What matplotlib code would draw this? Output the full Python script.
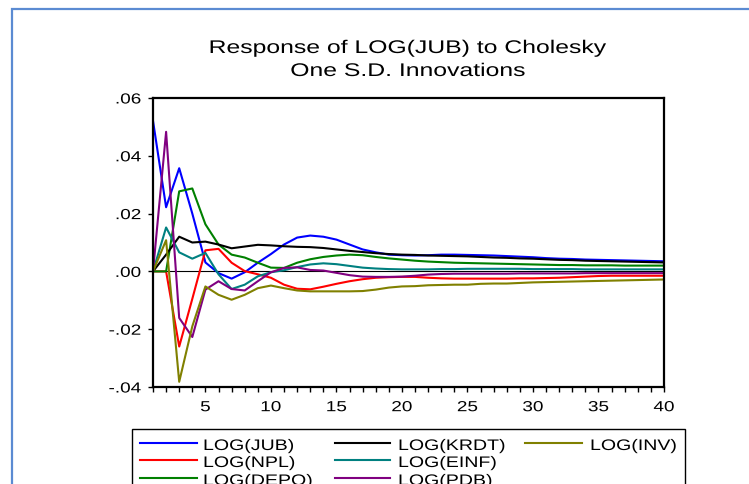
import matplotlib
matplotlib.use('Agg')
import matplotlib.pyplot as plt
from matplotlib.patches import Rectangle
from matplotlib.lines import Line2D
from matplotlib.patheffects import AbstractPathEffect
from matplotlib.transforms import Affine2D
from matplotlib.ticker import MultipleLocator

plt.rcParams['font.family'] = ['Liberation Sans', 'DejaVu Sans']

# impulse responses, periods 1..40
periods = list(range(1, 41))
jub = [0.0521, 0.0222, 0.0357, 0.0200, 0.0031, -0.0006, -0.0025, -0.0003, 0.0030, 0.0060,
       0.0093, 0.0117, 0.0124, 0.0120, 0.0110, 0.0093, 0.0076, 0.0066, 0.0058, 0.0056,
       0.0055, 0.0056, 0.0058, 0.0058, 0.0057, 0.0056, 0.0055, 0.0053, 0.0051, 0.0049,
       0.0046, 0.0044, 0.0043, 0.0041, 0.0040, 0.0039, 0.0038, 0.0037, 0.0036, 0.0035]
npl = [0.0, 0.0, -0.0260, -0.0095, 0.0073, 0.0078, 0.0030, 0.0001, -0.0010, -0.0022,
       -0.0046, -0.0060, -0.0062, -0.0053, -0.0043, -0.0034, -0.0027, -0.0022, -0.0020, -0.0019,
       -0.0019, -0.0022, -0.0024, -0.0025, -0.0025, -0.0025, -0.0025, -0.0025, -0.0024, -0.0024,
       -0.0023, -0.0022, -0.0020, -0.0018, -0.0016, -0.0015, -0.0015, -0.0015, -0.0015, -0.0015]
depo = [0.0, 0.0, 0.0277, 0.0287, 0.0163, 0.0093, 0.0058, 0.0048, 0.0030, 0.0013,
        0.0012, 0.0030, 0.0042, 0.0050, 0.0055, 0.0058, 0.0056, 0.0050, 0.0045, 0.0041,
        0.0037, 0.0034, 0.0032, 0.0030, 0.0029, 0.0028, 0.0027, 0.0026, 0.0025, 0.0024,
        0.0023, 0.0022, 0.0022, 0.0021, 0.0021, 0.0021, 0.0020, 0.0020, 0.0020, 0.0020]
krdt = [0.0, 0.0058, 0.0120, 0.0100, 0.0103, 0.0093, 0.0080, 0.0086, 0.0092, 0.0090,
        0.0087, 0.0085, 0.0084, 0.0081, 0.0076, 0.0071, 0.0067, 0.0063, 0.0060, 0.0058,
        0.0057, 0.0055, 0.0054, 0.0053, 0.0052, 0.0050, 0.0048, 0.0047, 0.0045, 0.0044,
        0.0042, 0.0040, 0.0039, 0.0037, 0.0036, 0.0035, 0.0034, 0.0033, 0.0032, 0.0031]
einf = [0.0, 0.0152, 0.0066, 0.0044, 0.0064, -0.0010, -0.0061, -0.0046, -0.0017, -0.0003,
        0.0004, 0.0015, 0.0024, 0.0028, 0.0025, 0.0019, 0.0013, 0.0010, 0.0008, 0.0007,
        0.0007, 0.0007, 0.0008, 0.0008, 0.0009, 0.0009, 0.0009, 0.0009, 0.0009, 0.0008,
        0.0008, 0.0008, 0.0008, 0.0007, 0.0007, 0.0007, 0.0007, 0.0007, 0.0007, 0.0007]
pdb = [0.0, 0.0483, -0.0161, -0.0227, -0.0063, -0.0034, -0.0061, -0.0066, -0.0034, -0.0003,
       0.0012, 0.0014, 0.0005, 0.0003, -0.0005, -0.0013, -0.0018, -0.0019, -0.0019, -0.0018,
       -0.0015, -0.0011, -0.0009, -0.0008, -0.0008, -0.0008, -0.0008, -0.0008, -0.0007, -0.0007,
       -0.0007, -0.0007, -0.0007, -0.0006, -0.0006, -0.0006, -0.0006, -0.0006, -0.0006, -0.0006]
inv = [0.0, 0.0108, -0.0382, -0.0190, -0.0052, -0.0081, -0.0098, -0.0081, -0.0058, -0.0049,
       -0.0058, -0.0066, -0.0069, -0.0069, -0.0069, -0.0069, -0.0068, -0.0063, -0.0056, -0.0052,
       -0.0051, -0.0048, -0.0047, -0.0046, -0.0046, -0.0043, -0.0042, -0.0042, -0.0040, -0.0038,
       -0.0037, -0.0036, -0.0035, -0.0034, -0.0033, -0.0032, -0.0031, -0.0030, -0.0029, -0.0028]

series_names = ['LOG(JUB)', 'LOG(NPL)', 'LOG(DEPO)', 'LOG(KRDT)', 'LOG(EINF)', 'LOG(PDB)', 'LOG(INV)']
series_data = [jub, npl, depo, krdt, einf, pdb, inv]
series_colors = ['#0000ff', '#ff0000', '#008000', '#000000', '#008080', '#800080', '#808000']

xticks = [5, 10, 15, 20, 25, 30, 35, 40]
yticks = [-0.04, -0.02, 0.0, 0.02, 0.04, 0.06]
ytick_labels = ['-.04', '-.02', '.00', '.02', '.04', '.06']
title_lines = ['Response of LOG(JUB) to Cholesky', 'One S.D. Innovations']


class Stretch(AbstractPathEffect):
    """widen text horizontally (the source image is stretched)"""
    def __init__(self, sx=1.3, anchor='center'):
        super().__init__()
        self.sx = sx
        self.anchor = anchor

    def draw_path(self, renderer, gc, tpath, affine, rgbFace=None):
        ext = tpath.get_extents()
        if self.anchor == 'center':
            x0 = (ext.x0 + ext.x1) / 2
        elif self.anchor == 'right':
            x0 = ext.x1
        else:
            x0 = 0
        st = Affine2D().translate(-x0, 0).scale(self.sx, 1).translate(x0, 0)
        renderer.draw_path(gc, tpath, st + affine, rgbFace)


W, H = 749, 485
fig = plt.figure(figsize=(W / 100, H / 100), dpi=100)

def fx(px):
    return px / W

def fy(py):
    return 1 - py / H

# outer blue frame (cut off at right/bottom)
fig.add_artist(Rectangle((fx(12), -0.5), 2.0, fy(10) + 0.5, transform=fig.transFigure,
                         fill=False, edgecolor='#5b8bd2', lw=1.6, clip_on=False))

ax = fig.add_axes([fx(153), fy(388), fx(664) - fx(153), fy(99) - fy(388)])

for name, vals, col in zip(series_names, series_data, series_colors):
    ax.plot(periods, vals, color=col, lw=1.5, label=name)
ax.axhline(0, color='black', lw=0.8, zorder=1)

ax.set_xlim(1, 40)
ax.set_ylim(-0.04, 0.06)
ax.set_xticks(xticks)
ax.set_xticklabels([str(t) for t in xticks])
ax.xaxis.set_minor_locator(MultipleLocator(1))
ax.set_yticks(yticks)
ax.set_yticklabels(ytick_labels)
ax.tick_params(axis='both', which='both', direction='out', length=3.5, width=1.0,
               labelsize=10.5, top=False, right=False)
ax.tick_params(axis='x', pad=6)
ax.tick_params(axis='y', pad=5)
for sp in ax.spines.values():
    sp.set_linewidth(1.6)

for lab in ax.get_xticklabels():
    lab.set_path_effects([Stretch(1.3, 'center')])
for lab in ax.get_yticklabels():
    lab.set_path_effects([Stretch(1.3, 'right')])

# title, two lines
for line, base in zip(title_lines, [54, 77]):
    fig.text(fx(408), fy(base), line, ha='center', va='baseline', fontsize=13.2,
             path_effects=[Stretch(1.35, 'center')])

# legend drawn by hand, EViews column order
fig.add_artist(Rectangle((fx(132), -0.5), fx(685) - fx(132), fy(430) + 0.5,
                         transform=fig.transFigure, fill=False, edgecolor='black',
                         lw=1.0, clip_on=False))
col_x = [(140, 197, 203), (335, 390, 398), (525, 582, 590)]
row_base = [451, 468, 486]
for i, (name, col) in enumerate(zip(series_names, series_colors)):
    c, r = i // 3, i % 3
    x1, x2, xt = col_x[c]
    yb = row_base[r]
    fig.add_artist(Line2D([fx(x1), fx(x2)], [fy(yb - 7), fy(yb - 7)], transform=fig.transFigure,
                          color=col, lw=1.5))
    fig.text(fx(xt), fy(yb), name, ha='left', va='baseline', fontsize=11,
             path_effects=[Stretch(1.28, 'left')])

fig.savefig('out.png', dpi=100)
